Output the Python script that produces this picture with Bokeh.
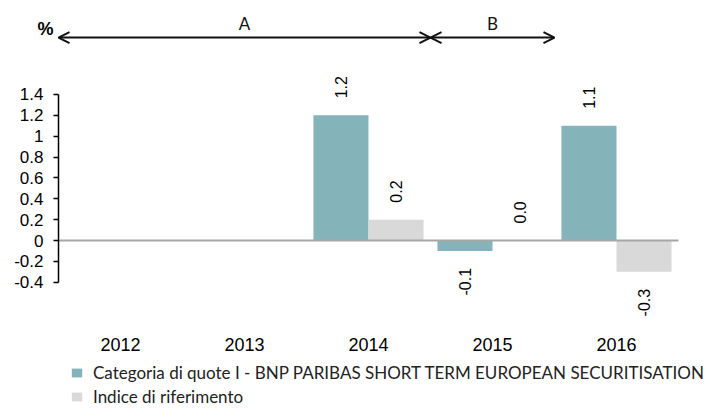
import numpy as np
from bokeh.plotting import figure
from bokeh.models import (Range1d, ColumnDataSource, FixedTicker, CustomJSTickFormatter,
                          Arrow, OpenHead, Label, Legend, LegendItem)
from bokeh.core.properties import value
from bokeh.embed import file_html
from bokeh.resources import INLINE

# ---------------- data ----------------
years = ["2012", "2013", "2014", "2015", "2016"]
fund_returns = [None, None, 1.2, -0.1, 1.1]
index_returns = [None, None, 0.2, 0.0, -0.3]
y_ticks = [-0.4, -0.2, 0, 0.2, 0.4, 0.6, 0.8, 1.0, 1.2, 1.4]
period_names = ["A", "B"]
period_first = ["2012", "2015"]
period_last = ["2014", "2015"]
series_names = ["Categoria di quote I - BNP PARIBAS SHORT TERM EUROPEAN SECURITISATION",
                "Indice di riferimento"]
series_colors = ["#84B3BA", "#D9D9D9"]

# ---------------- layout constants ----------------
BAR_W = 0.444
ARROW_Y = 1.946
PERIOD_LABEL_Y = 2.085
YEAR_LABEL_Y = -0.997
FONT = "Liberation Sans"
LEGEND_FONT = "Lato"

p = figure(width=703, height=409, output_backend="svg", toolbar_location=None,
           x_range=Range1d(-0.4677, 5.2016), y_range=Range1d(-1.620, 2.301),
           x_axis_type=None,
           min_border_left=0, min_border_right=0, min_border_top=0, min_border_bottom=0)
p.outline_line_color = None
p.xgrid.visible = False
p.ygrid.visible = False
p.background_fill_color = "white"
p.border_fill_color = "white"

ax = p.yaxis[0]
ax.fixed_location = 0
ax.ticker = FixedTicker(ticks=y_ticks)
ax.formatter = CustomJSTickFormatter(code="return tick.toFixed(1).replace(/\\.0$/, '')")
ax.bounds = (min(y_ticks), max(y_ticks))
ax.axis_line_color = "black"
ax.axis_line_width = 1.5
ax.major_tick_line_color = "black"
ax.major_tick_line_width = 1.5
ax.major_tick_out = 5
ax.major_tick_in = 0
ax.minor_tick_line_color = None
ax.major_label_standoff = 10
ax.major_label_text_font = FONT
ax.major_label_text_font_size = "17px"
ax.major_label_text_color = "black"

centers = np.arange(len(years)) + 0.5

def series_source(vals, offset):
    xs, tops, labels, aligns, yoff = [], [], [], [], []
    for c, v in zip(centers, vals):
        if v is None:
            continue
        xs.append(c + offset)
        tops.append(v)
        labels.append(f"{v:.1f}")
        aligns.append("left" if v >= 0 else "right")
        yoff.append(-17 if v >= 0 else 17)
    return ColumnDataSource(dict(x=xs, top=tops, label=labels, align=aligns, yoff=yoff))

src_fund = series_source(fund_returns, -BAR_W / 2)
src_index = series_source(index_returns, BAR_W / 2)

r_fund = p.vbar(x="x", top="top", bottom=0, width=BAR_W, source=src_fund,
                fill_color=series_colors[0], line_color=None)
r_index = p.vbar(x="x", top="top", bottom=0, width=BAR_W, source=src_index,
                 fill_color=series_colors[1], line_color=None)

for src in (src_fund, src_index):
    p.text(x="x", y="top", text="label", source=src, angle=np.pi / 2,
           text_align="align", text_baseline="middle", y_offset="yoff",
           text_font=value(FONT), text_font_size="16px", text_color="black")

# zero line across the category area
p.segment(x0=[0], y0=[0], x1=[len(years)], y1=[0], line_color="#A6A6A6", line_width=2)

# year labels
p.text(x=centers, y=[YEAR_LABEL_Y] * len(years), text=years, text_align="center",
       text_baseline="middle", text_font=value(FONT), text_font_size="18px",
       text_color="black")

# period arrows
for name, first, last in zip(period_names, period_first, period_last):
    xs = years.index(first)
    xe = years.index(last) + 1
    p.add_layout(Arrow(x_start=xs, y_start=ARROW_Y, x_end=xe, y_end=ARROW_Y,
                       line_width=2, line_color="#111111",
                       start=OpenHead(size=11, line_width=2, line_color="#111111"),
                       end=OpenHead(size=11, line_width=2, line_color="#111111")))
    p.add_layout(Label(x=(xs + xe) / 2, y=PERIOD_LABEL_Y, text=name, text_align="center",
                       text_baseline="middle", text_font=LEGEND_FONT, text_font_size="17px",
                       text_color="#111111"))

p.add_layout(Label(x=-0.105, y=2.023, text="%", text_align="center", text_baseline="middle",
                   text_font=FONT, text_font_size="18px", text_font_style="bold",
                   text_color="black"))

legend = Legend(items=[LegendItem(label=series_names[0], renderers=[r_fund]),
                       LegendItem(label=series_names[1], renderers=[r_index])],
                location=(70, 2), orientation="vertical",
                glyph_width=13, glyph_height=11, label_standoff=10, spacing=3,
                padding=0, margin=0, border_line_color=None, background_fill_alpha=0,
                label_text_font=LEGEND_FONT, label_text_font_size="17px",
                label_text_color="#222222")
p.add_layout(legend)

open("out.html", "w").write(file_html(p, INLINE))
